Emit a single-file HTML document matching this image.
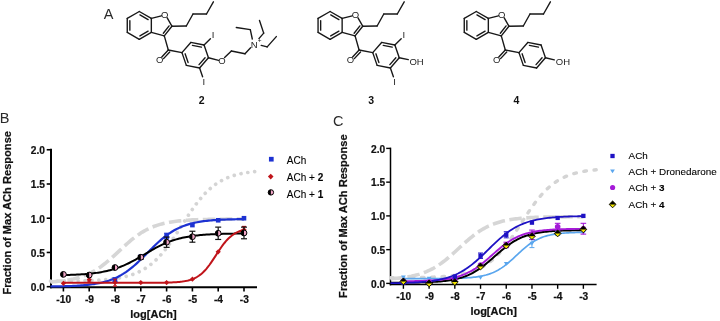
<!DOCTYPE html>
<html><head><meta charset="utf-8"><style>
html,body{margin:0;padding:0;background:#fff;}
body{width:720px;height:321px;overflow:hidden;}
svg{display:block;font-family:"Liberation Sans", sans-serif;will-change:transform;}
</style></head><body>
<svg width="720" height="321" viewBox="0 0 720 321">
<rect width="720" height="321" fill="#fff"/>
<g><line x1="139.3" y1="11.5" x2="151.34" y2="18.45" stroke="#181818" stroke-width="1.38" stroke-linecap="round"/><line x1="151.34" y1="18.45" x2="151.34" y2="32.35" stroke="#181818" stroke-width="1.38" stroke-linecap="round"/><line x1="151.34" y1="32.35" x2="139.3" y2="39.3" stroke="#181818" stroke-width="1.38" stroke-linecap="round"/><line x1="139.3" y1="39.3" x2="127.26" y2="32.35" stroke="#181818" stroke-width="1.38" stroke-linecap="round"/><line x1="127.26" y1="32.35" x2="127.26" y2="18.45" stroke="#181818" stroke-width="1.38" stroke-linecap="round"/><line x1="127.26" y1="18.45" x2="139.3" y2="11.5" stroke="#181818" stroke-width="1.38" stroke-linecap="round"/><line x1="139.93" y1="14.86" x2="148.11" y2="19.59" stroke="#181818" stroke-width="1.38" stroke-linecap="round"/><line x1="148.11" y1="31.21" x2="139.93" y2="35.94" stroke="#181818" stroke-width="1.38" stroke-linecap="round"/><line x1="129.86" y1="30.13" x2="129.86" y2="20.67" stroke="#181818" stroke-width="1.38" stroke-linecap="round"/><line x1="151.34" y1="18.45" x2="161.4" y2="15.8" stroke="#181818" stroke-width="1.38" stroke-linecap="round"/><line x1="167.2" y1="17.8" x2="171.9" y2="26.2" stroke="#181818" stroke-width="1.38" stroke-linecap="round"/><line x1="171.9" y1="26.2" x2="164.3" y2="35.9" stroke="#181818" stroke-width="1.38" stroke-linecap="round"/><line x1="164.3" y1="35.9" x2="151.34" y2="32.35" stroke="#181818" stroke-width="1.38" stroke-linecap="round"/><line x1="169.1" y1="25.88" x2="163.32" y2="33.26" stroke="#181818" stroke-width="1.38" stroke-linecap="round"/><text x="164.6" y="17.9" font-size="9.5" text-anchor="middle" font-weight="normal" fill="#222" >O</text><line x1="171.9" y1="26.2" x2="186.3" y2="26" stroke="#181818" stroke-width="1.38" stroke-linecap="round"/><line x1="186.3" y1="26" x2="193" y2="14" stroke="#181818" stroke-width="1.38" stroke-linecap="round"/><line x1="193" y1="14" x2="206.5" y2="14" stroke="#181818" stroke-width="1.38" stroke-linecap="round"/><line x1="206.5" y1="14" x2="213.4" y2="1.8" stroke="#181818" stroke-width="1.38" stroke-linecap="round"/><line x1="164.3" y1="35.9" x2="168.3" y2="50" stroke="#181818" stroke-width="1.38" stroke-linecap="round"/><line x1="168.3" y1="50" x2="161.8" y2="57" stroke="#181818" stroke-width="1.38" stroke-linecap="round"/><line x1="169.73" y1="51.98" x2="163.56" y2="58.63" stroke="#181818" stroke-width="1.38" stroke-linecap="round"/><text x="159.6" y="63.3" font-size="9.5" text-anchor="middle" font-weight="normal" fill="#222" >O</text><line x1="168.3" y1="50" x2="181.95" y2="52.62" stroke="#181818" stroke-width="1.38" stroke-linecap="round"/><line x1="181.95" y1="52.62" x2="190.8" y2="42.44" stroke="#181818" stroke-width="1.38" stroke-linecap="round"/><line x1="190.8" y1="42.44" x2="204.06" y2="45.01" stroke="#181818" stroke-width="1.38" stroke-linecap="round"/><line x1="204.06" y1="45.01" x2="208.45" y2="57.78" stroke="#181818" stroke-width="1.38" stroke-linecap="round"/><line x1="208.45" y1="57.78" x2="199.6" y2="67.96" stroke="#181818" stroke-width="1.38" stroke-linecap="round"/><line x1="199.6" y1="67.96" x2="186.34" y2="65.39" stroke="#181818" stroke-width="1.38" stroke-linecap="round"/><line x1="186.34" y1="65.39" x2="181.95" y2="52.62" stroke="#181818" stroke-width="1.38" stroke-linecap="round"/><line x1="192.43" y1="45.4" x2="201.44" y2="47.15" stroke="#181818" stroke-width="1.38" stroke-linecap="round"/><line x1="205.07" y1="57.7" x2="199.05" y2="64.63" stroke="#181818" stroke-width="1.38" stroke-linecap="round"/><line x1="188.1" y1="62.5" x2="185.11" y2="53.82" stroke="#181818" stroke-width="1.38" stroke-linecap="round"/><line x1="204.06" y1="45.01" x2="210.4" y2="38.8" stroke="#181818" stroke-width="1.38" stroke-linecap="round"/><text x="213.1" y="37.9" font-size="9.5" text-anchor="middle" font-weight="normal" fill="#222" >I</text><line x1="199.6" y1="67.96" x2="202.6" y2="76.8" stroke="#181818" stroke-width="1.38" stroke-linecap="round"/><text x="203.8" y="85.3" font-size="9.5" text-anchor="middle" font-weight="normal" fill="#222" >I</text><line x1="208.45" y1="57.78" x2="218.6" y2="60.4" stroke="#181818" stroke-width="1.38" stroke-linecap="round"/><text x="222" y="64.4" font-size="9.5" text-anchor="middle" font-weight="normal" fill="#222" >O</text><line x1="224.6" y1="57.6" x2="231.4" y2="51" stroke="#181818" stroke-width="1.38" stroke-linecap="round"/><line x1="231.4" y1="51" x2="245" y2="53.8" stroke="#181818" stroke-width="1.38" stroke-linecap="round"/><line x1="245" y1="53.8" x2="250.6" y2="47.8" stroke="#181818" stroke-width="1.38" stroke-linecap="round"/><text x="254.3" y="47.6" font-size="9.5" text-anchor="middle" font-weight="normal" fill="#222" >N</text><text x="259.7" y="43" font-size="6.5" text-anchor="middle" font-weight="normal" fill="#222" >+</text><line x1="252.3" y1="39" x2="250.3" y2="29.6" stroke="#181818" stroke-width="1.38" stroke-linecap="round"/><line x1="250.3" y1="29.6" x2="236.3" y2="27.5" stroke="#181818" stroke-width="1.38" stroke-linecap="round"/><line x1="258.9" y1="38.6" x2="263.7" y2="33.1" stroke="#181818" stroke-width="1.38" stroke-linecap="round"/><line x1="263.7" y1="33.1" x2="259.5" y2="20.5" stroke="#181818" stroke-width="1.38" stroke-linecap="round"/><line x1="261.2" y1="45.4" x2="267.2" y2="46.9" stroke="#181818" stroke-width="1.38" stroke-linecap="round"/><line x1="267.2" y1="46.9" x2="276.3" y2="36.6" stroke="#181818" stroke-width="1.38" stroke-linecap="round"/><line x1="330.1" y1="11.5" x2="342.14" y2="18.45" stroke="#181818" stroke-width="1.38" stroke-linecap="round"/><line x1="342.14" y1="18.45" x2="342.14" y2="32.35" stroke="#181818" stroke-width="1.38" stroke-linecap="round"/><line x1="342.14" y1="32.35" x2="330.1" y2="39.3" stroke="#181818" stroke-width="1.38" stroke-linecap="round"/><line x1="330.1" y1="39.3" x2="318.06" y2="32.35" stroke="#181818" stroke-width="1.38" stroke-linecap="round"/><line x1="318.06" y1="32.35" x2="318.06" y2="18.45" stroke="#181818" stroke-width="1.38" stroke-linecap="round"/><line x1="318.06" y1="18.45" x2="330.1" y2="11.5" stroke="#181818" stroke-width="1.38" stroke-linecap="round"/><line x1="330.73" y1="14.86" x2="338.91" y2="19.59" stroke="#181818" stroke-width="1.38" stroke-linecap="round"/><line x1="338.91" y1="31.21" x2="330.73" y2="35.94" stroke="#181818" stroke-width="1.38" stroke-linecap="round"/><line x1="320.66" y1="30.13" x2="320.66" y2="20.67" stroke="#181818" stroke-width="1.38" stroke-linecap="round"/><line x1="342.14" y1="18.45" x2="352.2" y2="15.8" stroke="#181818" stroke-width="1.38" stroke-linecap="round"/><line x1="358" y1="17.8" x2="362.7" y2="26.2" stroke="#181818" stroke-width="1.38" stroke-linecap="round"/><line x1="362.7" y1="26.2" x2="355.1" y2="35.9" stroke="#181818" stroke-width="1.38" stroke-linecap="round"/><line x1="355.1" y1="35.9" x2="342.14" y2="32.35" stroke="#181818" stroke-width="1.38" stroke-linecap="round"/><line x1="359.9" y1="25.88" x2="354.12" y2="33.26" stroke="#181818" stroke-width="1.38" stroke-linecap="round"/><text x="355.4" y="17.9" font-size="9.5" text-anchor="middle" font-weight="normal" fill="#222" >O</text><line x1="362.7" y1="26.2" x2="377.1" y2="26" stroke="#181818" stroke-width="1.38" stroke-linecap="round"/><line x1="377.1" y1="26" x2="383.8" y2="14" stroke="#181818" stroke-width="1.38" stroke-linecap="round"/><line x1="383.8" y1="14" x2="397.3" y2="14" stroke="#181818" stroke-width="1.38" stroke-linecap="round"/><line x1="397.3" y1="14" x2="404.2" y2="1.8" stroke="#181818" stroke-width="1.38" stroke-linecap="round"/><line x1="355.1" y1="35.9" x2="359.1" y2="50" stroke="#181818" stroke-width="1.38" stroke-linecap="round"/><line x1="359.1" y1="50" x2="352.6" y2="57" stroke="#181818" stroke-width="1.38" stroke-linecap="round"/><line x1="360.53" y1="51.98" x2="354.36" y2="58.63" stroke="#181818" stroke-width="1.38" stroke-linecap="round"/><text x="350.4" y="63.3" font-size="9.5" text-anchor="middle" font-weight="normal" fill="#222" >O</text><line x1="359.1" y1="50" x2="372.75" y2="52.62" stroke="#181818" stroke-width="1.38" stroke-linecap="round"/><line x1="372.75" y1="52.62" x2="381.6" y2="42.44" stroke="#181818" stroke-width="1.38" stroke-linecap="round"/><line x1="381.6" y1="42.44" x2="394.86" y2="45.01" stroke="#181818" stroke-width="1.38" stroke-linecap="round"/><line x1="394.86" y1="45.01" x2="399.25" y2="57.78" stroke="#181818" stroke-width="1.38" stroke-linecap="round"/><line x1="399.25" y1="57.78" x2="390.4" y2="67.96" stroke="#181818" stroke-width="1.38" stroke-linecap="round"/><line x1="390.4" y1="67.96" x2="377.14" y2="65.39" stroke="#181818" stroke-width="1.38" stroke-linecap="round"/><line x1="377.14" y1="65.39" x2="372.75" y2="52.62" stroke="#181818" stroke-width="1.38" stroke-linecap="round"/><line x1="383.23" y1="45.4" x2="392.24" y2="47.15" stroke="#181818" stroke-width="1.38" stroke-linecap="round"/><line x1="395.87" y1="57.7" x2="389.85" y2="64.63" stroke="#181818" stroke-width="1.38" stroke-linecap="round"/><line x1="378.9" y1="62.5" x2="375.91" y2="53.82" stroke="#181818" stroke-width="1.38" stroke-linecap="round"/><line x1="394.86" y1="45.01" x2="401.2" y2="38.8" stroke="#181818" stroke-width="1.38" stroke-linecap="round"/><text x="403.9" y="37.9" font-size="9.5" text-anchor="middle" font-weight="normal" fill="#222" >I</text><line x1="390.4" y1="67.96" x2="393.4" y2="76.8" stroke="#181818" stroke-width="1.38" stroke-linecap="round"/><text x="394.6" y="85.3" font-size="9.5" text-anchor="middle" font-weight="normal" fill="#222" >I</text><line x1="399.25" y1="57.78" x2="408.3" y2="59.6" stroke="#181818" stroke-width="1.38" stroke-linecap="round"/><text x="409.4" y="64.9" font-size="9.5" text-anchor="start" font-weight="normal" fill="#222" >OH</text><line x1="476.3" y1="11.5" x2="488.34" y2="18.45" stroke="#181818" stroke-width="1.38" stroke-linecap="round"/><line x1="488.34" y1="18.45" x2="488.34" y2="32.35" stroke="#181818" stroke-width="1.38" stroke-linecap="round"/><line x1="488.34" y1="32.35" x2="476.3" y2="39.3" stroke="#181818" stroke-width="1.38" stroke-linecap="round"/><line x1="476.3" y1="39.3" x2="464.26" y2="32.35" stroke="#181818" stroke-width="1.38" stroke-linecap="round"/><line x1="464.26" y1="32.35" x2="464.26" y2="18.45" stroke="#181818" stroke-width="1.38" stroke-linecap="round"/><line x1="464.26" y1="18.45" x2="476.3" y2="11.5" stroke="#181818" stroke-width="1.38" stroke-linecap="round"/><line x1="476.93" y1="14.86" x2="485.11" y2="19.59" stroke="#181818" stroke-width="1.38" stroke-linecap="round"/><line x1="485.11" y1="31.21" x2="476.93" y2="35.94" stroke="#181818" stroke-width="1.38" stroke-linecap="round"/><line x1="466.86" y1="30.13" x2="466.86" y2="20.67" stroke="#181818" stroke-width="1.38" stroke-linecap="round"/><line x1="488.34" y1="18.45" x2="498.4" y2="15.8" stroke="#181818" stroke-width="1.38" stroke-linecap="round"/><line x1="504.2" y1="17.8" x2="508.9" y2="26.2" stroke="#181818" stroke-width="1.38" stroke-linecap="round"/><line x1="508.9" y1="26.2" x2="501.3" y2="35.9" stroke="#181818" stroke-width="1.38" stroke-linecap="round"/><line x1="501.3" y1="35.9" x2="488.34" y2="32.35" stroke="#181818" stroke-width="1.38" stroke-linecap="round"/><line x1="506.1" y1="25.88" x2="500.32" y2="33.26" stroke="#181818" stroke-width="1.38" stroke-linecap="round"/><text x="501.6" y="17.9" font-size="9.5" text-anchor="middle" font-weight="normal" fill="#222" >O</text><line x1="508.9" y1="26.2" x2="523.3" y2="26" stroke="#181818" stroke-width="1.38" stroke-linecap="round"/><line x1="523.3" y1="26" x2="530" y2="14" stroke="#181818" stroke-width="1.38" stroke-linecap="round"/><line x1="530" y1="14" x2="543.5" y2="14" stroke="#181818" stroke-width="1.38" stroke-linecap="round"/><line x1="543.5" y1="14" x2="550.4" y2="1.8" stroke="#181818" stroke-width="1.38" stroke-linecap="round"/><line x1="501.3" y1="35.9" x2="505.3" y2="50" stroke="#181818" stroke-width="1.38" stroke-linecap="round"/><line x1="505.3" y1="50" x2="498.8" y2="57" stroke="#181818" stroke-width="1.38" stroke-linecap="round"/><line x1="506.73" y1="51.98" x2="500.56" y2="58.63" stroke="#181818" stroke-width="1.38" stroke-linecap="round"/><text x="496.6" y="63.3" font-size="9.5" text-anchor="middle" font-weight="normal" fill="#222" >O</text><line x1="505.3" y1="50" x2="518.95" y2="52.62" stroke="#181818" stroke-width="1.38" stroke-linecap="round"/><line x1="518.95" y1="52.62" x2="527.8" y2="42.44" stroke="#181818" stroke-width="1.38" stroke-linecap="round"/><line x1="527.8" y1="42.44" x2="541.06" y2="45.01" stroke="#181818" stroke-width="1.38" stroke-linecap="round"/><line x1="541.06" y1="45.01" x2="545.45" y2="57.78" stroke="#181818" stroke-width="1.38" stroke-linecap="round"/><line x1="545.45" y1="57.78" x2="536.6" y2="67.96" stroke="#181818" stroke-width="1.38" stroke-linecap="round"/><line x1="536.6" y1="67.96" x2="523.34" y2="65.39" stroke="#181818" stroke-width="1.38" stroke-linecap="round"/><line x1="523.34" y1="65.39" x2="518.95" y2="52.62" stroke="#181818" stroke-width="1.38" stroke-linecap="round"/><line x1="529.43" y1="45.4" x2="538.44" y2="47.15" stroke="#181818" stroke-width="1.38" stroke-linecap="round"/><line x1="542.07" y1="57.7" x2="536.05" y2="64.63" stroke="#181818" stroke-width="1.38" stroke-linecap="round"/><line x1="525.1" y1="62.5" x2="522.11" y2="53.82" stroke="#181818" stroke-width="1.38" stroke-linecap="round"/><line x1="545.45" y1="57.78" x2="554.3" y2="59.9" stroke="#181818" stroke-width="1.38" stroke-linecap="round"/><text x="555.8" y="64.9" font-size="9.5" text-anchor="start" font-weight="normal" fill="#222" >OH</text></g>
<g><text x="108.5" y="18.8" font-size="14.5" text-anchor="middle" font-weight="normal" fill="#2a2a2a" >A</text><text x="4.6" y="123.3" font-size="14.5" text-anchor="middle" font-weight="normal" fill="#2a2a2a" >B</text><text x="338.2" y="126.4" font-size="14.5" text-anchor="middle" font-weight="normal" fill="#2a2a2a" >C</text><text x="201.6" y="103.7" font-size="10.5" text-anchor="middle" font-weight="bold" fill="#111" >2</text><text x="371.1" y="104" font-size="10.5" text-anchor="middle" font-weight="bold" fill="#111" >3</text><text x="516.4" y="103.7" font-size="10.5" text-anchor="middle" font-weight="bold" fill="#111" >4</text></g>
<g><line x1="51" y1="148.76" x2="51" y2="288.3" stroke="#000" stroke-width="2.0"/><line x1="50" y1="287.3" x2="257" y2="287.3" stroke="#000" stroke-width="2.0"/><line x1="46.7" y1="286.7" x2="51" y2="286.7" stroke="#000" stroke-width="1.6"/><text x="44.9" y="290.97" font-size="10.2" text-anchor="end" font-weight="bold" fill="#111" stroke="#111" stroke-width="0.22">0.0</text><line x1="46.7" y1="252.46" x2="51" y2="252.46" stroke="#000" stroke-width="1.6"/><text x="44.9" y="256.74" font-size="10.2" text-anchor="end" font-weight="bold" fill="#111" stroke="#111" stroke-width="0.22">0.5</text><line x1="46.7" y1="218.23" x2="51" y2="218.23" stroke="#000" stroke-width="1.6"/><text x="44.9" y="222.5" font-size="10.2" text-anchor="end" font-weight="bold" fill="#111" stroke="#111" stroke-width="0.22">1.0</text><line x1="46.7" y1="184" x2="51" y2="184" stroke="#000" stroke-width="1.6"/><text x="44.9" y="188.27" font-size="10.2" text-anchor="end" font-weight="bold" fill="#111" stroke="#111" stroke-width="0.22">1.5</text><line x1="46.7" y1="149.76" x2="51" y2="149.76" stroke="#000" stroke-width="1.6"/><text x="44.9" y="154.03" font-size="10.2" text-anchor="end" font-weight="bold" fill="#111" stroke="#111" stroke-width="0.22">2.0</text><line x1="63.4" y1="287.3" x2="63.4" y2="291.5" stroke="#000" stroke-width="1.6"/><text x="63.7" y="303" font-size="10.2" text-anchor="middle" font-weight="bold" fill="#111" stroke="#111" stroke-width="0.22">-10</text><line x1="89.2" y1="287.3" x2="89.2" y2="291.5" stroke="#000" stroke-width="1.6"/><text x="89.5" y="303" font-size="10.2" text-anchor="middle" font-weight="bold" fill="#111" stroke="#111" stroke-width="0.22">-9</text><line x1="115" y1="287.3" x2="115" y2="291.5" stroke="#000" stroke-width="1.6"/><text x="115.3" y="303" font-size="10.2" text-anchor="middle" font-weight="bold" fill="#111" stroke="#111" stroke-width="0.22">-8</text><line x1="140.8" y1="287.3" x2="140.8" y2="291.5" stroke="#000" stroke-width="1.6"/><text x="141.1" y="303" font-size="10.2" text-anchor="middle" font-weight="bold" fill="#111" stroke="#111" stroke-width="0.22">-7</text><line x1="166.6" y1="287.3" x2="166.6" y2="291.5" stroke="#000" stroke-width="1.6"/><text x="166.9" y="303" font-size="10.2" text-anchor="middle" font-weight="bold" fill="#111" stroke="#111" stroke-width="0.22">-6</text><line x1="192.4" y1="287.3" x2="192.4" y2="291.5" stroke="#000" stroke-width="1.6"/><text x="192.7" y="303" font-size="10.2" text-anchor="middle" font-weight="bold" fill="#111" stroke="#111" stroke-width="0.22">-5</text><line x1="218.2" y1="287.3" x2="218.2" y2="291.5" stroke="#000" stroke-width="1.6"/><text x="218.5" y="303" font-size="10.2" text-anchor="middle" font-weight="bold" fill="#111" stroke="#111" stroke-width="0.22">-4</text><line x1="244" y1="287.3" x2="244" y2="291.5" stroke="#000" stroke-width="1.6"/><text x="244.3" y="303" font-size="10.2" text-anchor="middle" font-weight="bold" fill="#111" stroke="#111" stroke-width="0.22">-3</text><text x="153.5" y="318" font-size="11" text-anchor="middle" font-weight="bold" fill="#111" stroke="#111" stroke-width="0.22">log[ACh]</text><text x="0" y="0" font-size="11.1" font-weight="bold" fill="#111" stroke="#111" stroke-width="0.22" text-anchor="middle" transform="translate(10.6,212.8) rotate(-90)">Fraction of Max ACh Response</text><path d="M50.5,281.99 L52.11,281.87 L53.72,281.75 L55.34,281.62 L56.95,281.47 L58.56,281.31 L60.17,281.14 L61.79,280.95 L63.4,280.74 L65.01,280.51 L66.62,280.26 L68.24,280 L69.85,279.7 L71.46,279.38 L73.08,279.04 L74.69,278.66 L76.3,278.25 L77.91,277.81 L79.53,277.33 L81.14,276.81 L82.75,276.25 L84.36,275.65 L85.97,275.01 L87.59,274.32 L89.2,273.58 L90.81,272.79 L92.42,271.94 L94.04,271.05 L95.65,270.1 L97.26,269.09 L98.88,268.03 L100.49,266.92 L102.1,265.75 L103.71,264.53 L105.33,263.27 L106.94,261.95 L108.55,260.6 L110.16,259.2 L111.78,257.78 L113.39,256.32 L115,254.84 L116.61,253.35 L118.22,251.84 L119.84,250.34 L121.45,248.83 L123.06,247.34 L124.67,245.86 L126.29,244.4 L127.9,242.98 L129.51,241.58 L131.12,240.23 L132.74,238.92 L134.35,237.65 L135.96,236.43 L137.57,235.27 L139.19,234.15 L140.8,233.09 L142.41,232.09 L144.03,231.14 L145.64,230.24 L147.25,229.4 L148.86,228.61 L150.47,227.87 L152.09,227.18 L153.7,226.53 L155.31,225.93 L156.93,225.37 L158.54,224.86 L160.15,224.38 L161.76,223.94 L163.38,223.53 L164.99,223.15 L166.6,222.81 L168.21,222.49 L169.82,222.19 L171.44,221.92 L173.05,221.68 L174.66,221.45 L176.28,221.24 L177.89,221.05 L179.5,220.88 L181.11,220.72 L182.72,220.57 L184.34,220.44 L185.95,220.32 L187.56,220.2 L189.18,220.1 L190.79,220.01 L192.4,219.92 L194.01,219.85 L195.62,219.78 L197.24,219.71 L198.85,219.65 L200.46,219.6 L202.08,219.55 L203.69,219.51 L205.3,219.47 L206.91,219.43 L208.53,219.39 L210.14,219.36 L211.75,219.34 L213.36,219.31 L214.98,219.29 L216.59,219.27 L218.2,219.25 L219.81,219.23 L221.43,219.21 L223.04,219.2 L224.65,219.19 L226.26,219.17 L227.88,219.16 L229.49,219.15 L231.1,219.14 L232.71,219.14 L234.33,219.13 L235.94,219.12 L237.55,219.12 L239.16,219.11 L240.78,219.1 L242.39,219.1 L244,219.1" fill="none" stroke="#d6d6d6" stroke-width="3.6" stroke-dasharray="12.5 4.5"/><path d="M50.5,281.02 L52.22,281.01 L53.94,281 L55.66,280.99 L57.38,280.98 L59.1,280.97 L60.82,280.96 L62.54,280.95 L64.26,280.94 L65.98,280.92 L67.7,280.9 L69.42,280.88 L71.14,280.86 L72.86,280.84 L74.58,280.82 L76.3,280.79 L78.02,280.76 L79.74,280.73 L81.46,280.69 L83.18,280.65 L84.9,280.61 L86.62,280.56 L88.34,280.51 L90.06,280.45 L91.78,280.38 L93.5,280.31 L95.22,280.23 L96.94,280.15 L98.66,280.05 L100.38,279.95 L102.1,279.84 L103.82,279.71 L105.54,279.57 L107.26,279.42 L108.98,279.26 L110.7,279.07 L112.42,278.87 L114.14,278.65 L115.86,278.41 L117.58,278.15 L119.3,277.86 L121.02,277.54 L122.74,277.2 L124.46,276.82 L126.18,276.4 L127.9,275.95 L129.62,275.45 L131.34,274.91 L133.06,274.32 L134.78,273.68 L136.5,272.98 L138.22,272.23 L139.94,271.41 L141.66,270.52 L143.38,269.55 L145.1,268.52 L146.82,267.4 L148.54,266.19 L150.26,264.9 L151.98,263.52 L153.7,262.04 L155.42,260.46 L157.14,258.79 L158.86,257.01 L160.58,255.14 L162.3,253.17 L164.02,251.1 L165.74,248.93 L167.46,246.68 L169.18,244.34 L170.9,241.92 L172.62,239.43 L174.34,236.88 L176.06,234.28 L177.78,231.64 L179.5,228.98 L181.22,226.29 L182.94,223.6 L184.66,220.92 L186.38,218.26 L188.1,215.64 L189.82,213.06 L191.54,210.53 L193.26,208.07 L194.98,205.68 L196.7,203.37 L198.42,201.15 L200.14,199.03 L201.86,196.99 L203.58,195.06 L205.3,193.22 L207.02,191.49 L208.74,189.85 L210.46,188.32 L212.18,186.87 L213.9,185.53 L215.62,184.27 L217.34,183.1 L219.06,182.01 L220.78,181 L222.5,180.07 L224.22,179.21 L225.94,178.41 L227.66,177.68 L229.38,177 L231.1,176.38 L232.82,175.81 L234.54,175.29 L236.26,174.81 L237.98,174.37 L239.7,173.97 L241.42,173.61 L243.14,173.27 L244.86,172.97 L246.58,172.69 L248.3,172.43 L250.02,172.2 L251.74,171.99 L253.46,171.79 L255.18,171.62 L256.9,171.46" fill="none" stroke="#d4d4d4" stroke-width="3.7" stroke-dasharray="0.01 6.9" stroke-linecap="round"/><path d="M50.5,286.5 L52.11,286.47 L53.72,286.45 L55.34,286.43 L56.95,286.4 L58.56,286.37 L60.17,286.34 L61.79,286.3 L63.4,286.26 L65.01,286.22 L66.62,286.17 L68.24,286.11 L69.85,286.05 L71.46,285.99 L73.08,285.92 L74.69,285.84 L76.3,285.75 L77.91,285.66 L79.53,285.56 L81.14,285.44 L82.75,285.32 L84.36,285.18 L85.97,285.03 L87.59,284.87 L89.2,284.69 L90.81,284.49 L92.42,284.27 L94.04,284.04 L95.65,283.78 L97.26,283.5 L98.88,283.19 L100.49,282.86 L102.1,282.49 L103.71,282.09 L105.33,281.66 L106.94,281.19 L108.55,280.69 L110.16,280.14 L111.78,279.54 L113.39,278.9 L115,278.21 L116.61,277.47 L118.22,276.67 L119.84,275.82 L121.45,274.91 L123.06,273.94 L124.67,272.91 L126.29,271.82 L127.9,270.68 L129.51,269.47 L131.12,268.2 L132.74,266.87 L134.35,265.49 L135.96,264.06 L137.57,262.59 L139.19,261.07 L140.8,259.52 L142.41,257.93 L144.03,256.32 L145.64,254.7 L147.25,253.07 L148.86,251.44 L150.47,249.81 L152.09,248.2 L153.7,246.6 L155.31,245.04 L156.93,243.51 L158.54,242.02 L160.15,240.57 L161.76,239.18 L163.38,237.84 L164.99,236.55 L166.6,235.32 L168.21,234.15 L169.82,233.04 L171.44,231.99 L173.05,231.01 L174.66,230.08 L176.28,229.21 L177.89,228.39 L179.5,227.63 L181.11,226.93 L182.72,226.27 L184.34,225.66 L185.95,225.1 L187.56,224.58 L189.18,224.1 L190.79,223.65 L192.4,223.25 L194.01,222.87 L195.62,222.53 L197.24,222.21 L198.85,221.92 L200.46,221.66 L202.08,221.41 L203.69,221.19 L205.3,220.99 L206.91,220.8 L208.53,220.63 L210.14,220.48 L211.75,220.34 L213.36,220.21 L214.98,220.09 L216.59,219.99 L218.2,219.89 L219.81,219.8 L221.43,219.72 L223.04,219.65 L224.65,219.58 L226.26,219.52 L227.88,219.46 L229.49,219.41 L231.1,219.37 L232.71,219.33 L234.33,219.29 L235.94,219.26 L237.55,219.22 L239.16,219.2 L240.78,219.17 L242.39,219.15 L244,219.13" fill="none" stroke="#1d32d2" stroke-width="2.2"/><path d="M63.4,275.1 L64.91,275.06 L66.41,275.02 L67.92,274.98 L69.42,274.93 L70.92,274.87 L72.43,274.82 L73.94,274.75 L75.44,274.68 L76.95,274.61 L78.45,274.53 L79.96,274.44 L81.46,274.35 L82.96,274.25 L84.47,274.14 L85.97,274.02 L87.48,273.89 L88.99,273.75 L90.49,273.6 L92,273.44 L93.5,273.26 L95,273.07 L96.51,272.87 L98.02,272.65 L99.52,272.41 L101.03,272.16 L102.53,271.88 L104.03,271.59 L105.54,271.28 L107.04,270.94 L108.55,270.58 L110.06,270.2 L111.56,269.79 L113.07,269.36 L114.57,268.9 L116.07,268.41 L117.58,267.9 L119.08,267.36 L120.59,266.78 L122.09,266.18 L123.6,265.55 L125.1,264.89 L126.61,264.2 L128.11,263.49 L129.62,262.75 L131.12,261.98 L132.63,261.19 L134.14,260.38 L135.64,259.55 L137.15,258.7 L138.65,257.84 L140.16,256.96 L141.66,256.08 L143.16,255.19 L144.67,254.3 L146.18,253.41 L147.68,252.52 L149.19,251.64 L150.69,250.77 L152.19,249.91 L153.7,249.07 L155.21,248.24 L156.71,247.44 L158.22,246.65 L159.72,245.9 L161.22,245.16 L162.73,244.46 L164.23,243.78 L165.74,243.13 L167.25,242.51 L168.75,241.92 L170.25,241.36 L171.76,240.82 L173.27,240.32 L174.77,239.84 L176.28,239.39 L177.78,238.96 L179.28,238.57 L180.79,238.19 L182.3,237.84 L183.8,237.51 L185.31,237.21 L186.81,236.92 L188.31,236.66 L189.82,236.41 L191.32,236.18 L192.83,235.96 L194.34,235.76 L195.84,235.58 L197.34,235.41 L198.85,235.25 L200.36,235.1 L201.86,234.97 L203.37,234.84 L204.87,234.72 L206.38,234.62 L207.88,234.52 L209.39,234.43 L210.89,234.34 L212.4,234.26 L213.9,234.19 L215.41,234.13 L216.91,234.07 L218.42,234.01 L219.92,233.96 L221.43,233.91 L222.93,233.87 L224.44,233.83 L225.94,233.79 L227.45,233.75 L228.95,233.72 L230.46,233.69 L231.96,233.67 L233.47,233.64 L234.97,233.62 L236.47,233.6 L237.98,233.58 L239.49,233.56 L240.99,233.55 L242.5,233.53 L244,233.52" fill="none" stroke="#000" stroke-width="2.0"/><path d="M63.4,282.8 L64.91,282.8 L66.41,282.8 L67.92,282.8 L69.42,282.8 L70.92,282.8 L72.43,282.8 L73.94,282.8 L75.44,282.8 L76.95,282.8 L78.45,282.8 L79.96,282.8 L81.46,282.8 L82.96,282.8 L84.47,282.8 L85.97,282.8 L87.48,282.8 L88.99,282.8 L90.49,282.8 L92,282.8 L93.5,282.8 L95,282.8 L96.51,282.8 L98.02,282.8 L99.52,282.8 L101.03,282.8 L102.53,282.8 L104.03,282.8 L105.54,282.8 L107.04,282.8 L108.55,282.8 L110.06,282.8 L111.56,282.8 L113.07,282.8 L114.57,282.8 L116.07,282.8 L117.58,282.8 L119.08,282.8 L120.59,282.8 L122.09,282.8 L123.6,282.8 L125.1,282.8 L126.61,282.79 L128.11,282.79 L129.62,282.79 L131.12,282.79 L132.63,282.79 L134.14,282.79 L135.64,282.79 L137.15,282.79 L138.65,282.79 L140.16,282.79 L141.66,282.78 L143.16,282.78 L144.67,282.78 L146.18,282.78 L147.68,282.77 L149.19,282.77 L150.69,282.76 L152.19,282.75 L153.7,282.75 L155.21,282.74 L156.71,282.73 L158.22,282.71 L159.72,282.7 L161.22,282.68 L162.73,282.66 L164.23,282.63 L165.74,282.6 L167.25,282.57 L168.75,282.53 L170.25,282.48 L171.76,282.42 L173.27,282.35 L174.77,282.27 L176.28,282.17 L177.78,282.06 L179.28,281.92 L180.79,281.76 L182.3,281.58 L183.8,281.36 L185.31,281.1 L186.81,280.8 L188.31,280.44 L189.82,280.03 L191.32,279.55 L192.83,278.99 L194.34,278.35 L195.84,277.61 L197.34,276.75 L198.85,275.78 L200.36,274.68 L201.86,273.43 L203.37,272.04 L204.87,270.5 L206.38,268.81 L207.88,266.97 L209.39,264.99 L210.89,262.89 L212.4,260.69 L213.9,258.42 L215.41,256.1 L216.91,253.76 L218.42,251.45 L219.92,249.19 L221.43,247.01 L222.93,244.94 L224.44,242.99 L225.94,241.19 L227.45,239.53 L228.95,238.03 L230.46,236.67 L231.96,235.46 L233.47,234.39 L234.97,233.44 L236.47,232.62 L237.98,231.9 L239.49,231.28 L240.99,230.74 L242.5,230.27 L244,229.88" fill="none" stroke="#c0141a" stroke-width="2.0"/><line x1="115" y1="277.8" x2="115" y2="281.91" stroke="#1d32d2" stroke-width="1.2"/><line x1="112.5" y1="277.8" x2="117.5" y2="277.8" stroke="#1d32d2" stroke-width="1.2"/><line x1="112.5" y1="281.91" x2="117.5" y2="281.91" stroke="#1d32d2" stroke-width="1.2"/><rect x="112.7" y="277.55" width="4.6" height="4.6" fill="#1d32d2"/><line x1="140.8" y1="255.2" x2="140.8" y2="259.31" stroke="#1d32d2" stroke-width="1.2"/><line x1="138.3" y1="255.2" x2="143.3" y2="255.2" stroke="#1d32d2" stroke-width="1.2"/><line x1="138.3" y1="259.31" x2="143.3" y2="259.31" stroke="#1d32d2" stroke-width="1.2"/><rect x="138.5" y="254.96" width="4.6" height="4.6" fill="#1d32d2"/><line x1="166.6" y1="233.29" x2="166.6" y2="238.77" stroke="#1d32d2" stroke-width="1.2"/><line x1="164.1" y1="233.29" x2="169.1" y2="233.29" stroke="#1d32d2" stroke-width="1.2"/><line x1="164.1" y1="238.77" x2="169.1" y2="238.77" stroke="#1d32d2" stroke-width="1.2"/><rect x="164.3" y="233.73" width="4.6" height="4.6" fill="#1d32d2"/><rect x="190.1" y="222.78" width="4.6" height="4.6" fill="#1d32d2"/><rect x="215.9" y="217.98" width="4.6" height="4.6" fill="#1d32d2"/><rect x="241.7" y="215.93" width="4.6" height="4.6" fill="#1d32d2"/><path d="M63.4,280.68 L66,283.28 L63.4,285.88 L60.8,283.28Z" fill="#c0141a"/><line x1="89.2" y1="277.8" x2="89.2" y2="281.91" stroke="#c0141a" stroke-width="1.2"/><line x1="87.2" y1="277.8" x2="91.2" y2="277.8" stroke="#c0141a" stroke-width="1.2"/><line x1="87.2" y1="281.91" x2="91.2" y2="281.91" stroke="#c0141a" stroke-width="1.2"/><path d="M89.2,277.25 L91.8,279.85 L89.2,282.45 L86.6,279.85Z" fill="#c0141a"/><line x1="115" y1="279.17" x2="115" y2="286.02" stroke="#c0141a" stroke-width="1.2"/><line x1="113" y1="279.17" x2="117" y2="279.17" stroke="#c0141a" stroke-width="1.2"/><line x1="113" y1="286.02" x2="117" y2="286.02" stroke="#c0141a" stroke-width="1.2"/><path d="M115,279.99 L117.6,282.59 L115,285.19 L112.4,282.59Z" fill="#c0141a"/><path d="M140.8,279.99 L143.4,282.59 L140.8,285.19 L138.2,282.59Z" fill="#c0141a"/><path d="M166.6,279.99 L169.2,282.59 L166.6,285.19 L164,282.59Z" fill="#c0141a"/><path d="M192.4,276.57 L195,279.17 L192.4,281.77 L189.8,279.17Z" fill="#c0141a"/><path d="M218.2,249.18 L220.8,251.78 L218.2,254.38 L215.6,251.78Z" fill="#c0141a"/><line x1="244" y1="226.45" x2="244" y2="233.29" stroke="#c0141a" stroke-width="1.2"/><line x1="242" y1="226.45" x2="246" y2="226.45" stroke="#c0141a" stroke-width="1.2"/><line x1="242" y1="233.29" x2="246" y2="233.29" stroke="#c0141a" stroke-width="1.2"/><path d="M244,227.27 L246.6,229.87 L244,232.47 L241.4,229.87Z" fill="#c0141a"/><circle cx="63.4" cy="274.38" r="2.9" fill="#f2a6c8" stroke="#000" stroke-width="1"/><path d="M63.4,271.48 A2.9,2.9 0 0 0 63.4,277.28 Z" fill="#000"/><circle cx="89.2" cy="275.06" r="2.9" fill="#f2a6c8" stroke="#000" stroke-width="1"/><path d="M89.2,272.16 A2.9,2.9 0 0 0 89.2,277.96 Z" fill="#000"/><circle cx="115" cy="267.53" r="2.9" fill="#f2a6c8" stroke="#000" stroke-width="1"/><path d="M115,264.63 A2.9,2.9 0 0 0 115,270.43 Z" fill="#000"/><line x1="140.8" y1="255.55" x2="140.8" y2="258.97" stroke="#111" stroke-width="1.2"/><line x1="137.8" y1="255.55" x2="143.8" y2="255.55" stroke="#111" stroke-width="1.2"/><line x1="137.8" y1="258.97" x2="143.8" y2="258.97" stroke="#111" stroke-width="1.2"/><circle cx="140.8" cy="257.26" r="2.9" fill="#f2a6c8" stroke="#000" stroke-width="1"/><path d="M140.8,254.36 A2.9,2.9 0 0 0 140.8,260.16 Z" fill="#000"/><line x1="166.6" y1="237.06" x2="166.6" y2="247.33" stroke="#111" stroke-width="1.2"/><line x1="163.6" y1="237.06" x2="169.6" y2="237.06" stroke="#111" stroke-width="1.2"/><line x1="163.6" y1="247.33" x2="169.6" y2="247.33" stroke="#111" stroke-width="1.2"/><circle cx="166.6" cy="242.19" r="2.9" fill="#f2a6c8" stroke="#000" stroke-width="1"/><path d="M166.6,239.29 A2.9,2.9 0 0 0 166.6,245.09 Z" fill="#000"/><line x1="192.4" y1="231.24" x2="192.4" y2="242.19" stroke="#111" stroke-width="1.2"/><line x1="189.4" y1="231.24" x2="195.4" y2="231.24" stroke="#111" stroke-width="1.2"/><line x1="189.4" y1="242.19" x2="195.4" y2="242.19" stroke="#111" stroke-width="1.2"/><circle cx="192.4" cy="236.72" r="2.9" fill="#f2a6c8" stroke="#000" stroke-width="1"/><path d="M192.4,233.82 A2.9,2.9 0 0 0 192.4,239.62 Z" fill="#000"/><line x1="218.2" y1="227.13" x2="218.2" y2="239.46" stroke="#111" stroke-width="1.2"/><line x1="215.2" y1="227.13" x2="221.2" y2="227.13" stroke="#111" stroke-width="1.2"/><line x1="215.2" y1="239.46" x2="221.2" y2="239.46" stroke="#111" stroke-width="1.2"/><circle cx="218.2" cy="233.29" r="2.9" fill="#f2a6c8" stroke="#000" stroke-width="1"/><path d="M218.2,230.39 A2.9,2.9 0 0 0 218.2,236.19 Z" fill="#000"/><line x1="244" y1="227.13" x2="244" y2="238.77" stroke="#111" stroke-width="1.2"/><line x1="241" y1="227.13" x2="247" y2="227.13" stroke="#111" stroke-width="1.2"/><line x1="241" y1="238.77" x2="247" y2="238.77" stroke="#111" stroke-width="1.2"/><circle cx="244" cy="232.95" r="2.9" fill="#f2a6c8" stroke="#000" stroke-width="1"/><path d="M244,230.05 A2.9,2.9 0 0 0 244,235.85 Z" fill="#000"/><rect x="268.95" y="156.85" width="4.7" height="4.7" fill="#1d32d2"/><text x="286.8" y="164.2" font-size="10" text-anchor="start" font-weight="normal" fill="#000" stroke="#000" stroke-width="0.1">ACh</text><path d="M270.7,173.8 L273.5,176.6 L270.7,179.4 L267.9,176.6Z" fill="#c0141a"/><text x="286.8" y="181.2" font-size="10" text-anchor="start" font-weight="normal" fill="#000" stroke="#000" stroke-width="0.1">ACh + <tspan font-weight="bold">2</tspan></text><circle cx="270.9" cy="192.4" r="2.7" fill="#f2a6c8" stroke="#000" stroke-width="1"/><path d="M270.9,189.7 A2.7,2.7 0 0 0 270.9,195.1 Z" fill="#000"/><text x="286.8" y="197.6" font-size="10" text-anchor="start" font-weight="normal" fill="#000" stroke="#000" stroke-width="0.1">ACh + <tspan font-weight="bold">1</tspan></text><line x1="390.5" y1="147.65" x2="390.5" y2="285.35" stroke="#000" stroke-width="1.5"/><line x1="389.75" y1="284.6" x2="596.6" y2="284.6" stroke="#000" stroke-width="1.5"/><line x1="386.2" y1="283.4" x2="390.5" y2="283.4" stroke="#000" stroke-width="1.4"/><text x="385.2" y="287.67" font-size="10.2" text-anchor="end" font-weight="bold" fill="#111" stroke="#111" stroke-width="0.22">0.0</text><line x1="386.2" y1="249.65" x2="390.5" y2="249.65" stroke="#000" stroke-width="1.4"/><text x="385.2" y="253.92" font-size="10.2" text-anchor="end" font-weight="bold" fill="#111" stroke="#111" stroke-width="0.22">0.5</text><line x1="386.2" y1="215.9" x2="390.5" y2="215.9" stroke="#000" stroke-width="1.4"/><text x="385.2" y="220.17" font-size="10.2" text-anchor="end" font-weight="bold" fill="#111" stroke="#111" stroke-width="0.22">1.0</text><line x1="386.2" y1="182.15" x2="390.5" y2="182.15" stroke="#000" stroke-width="1.4"/><text x="385.2" y="186.42" font-size="10.2" text-anchor="end" font-weight="bold" fill="#111" stroke="#111" stroke-width="0.22">1.5</text><line x1="386.2" y1="148.4" x2="390.5" y2="148.4" stroke="#000" stroke-width="1.4"/><text x="385.2" y="152.67" font-size="10.2" text-anchor="end" font-weight="bold" fill="#111" stroke="#111" stroke-width="0.22">2.0</text><line x1="403.4" y1="284.6" x2="403.4" y2="288.8" stroke="#000" stroke-width="1.4"/><text x="403.7" y="299.8" font-size="10.2" text-anchor="middle" font-weight="bold" fill="#111" stroke="#111" stroke-width="0.22">-10</text><line x1="429.11" y1="284.6" x2="429.11" y2="288.8" stroke="#000" stroke-width="1.4"/><text x="429.41" y="299.8" font-size="10.2" text-anchor="middle" font-weight="bold" fill="#111" stroke="#111" stroke-width="0.22">-9</text><line x1="454.82" y1="284.6" x2="454.82" y2="288.8" stroke="#000" stroke-width="1.4"/><text x="455.12" y="299.8" font-size="10.2" text-anchor="middle" font-weight="bold" fill="#111" stroke="#111" stroke-width="0.22">-8</text><line x1="480.53" y1="284.6" x2="480.53" y2="288.8" stroke="#000" stroke-width="1.4"/><text x="480.83" y="299.8" font-size="10.2" text-anchor="middle" font-weight="bold" fill="#111" stroke="#111" stroke-width="0.22">-7</text><line x1="506.24" y1="284.6" x2="506.24" y2="288.8" stroke="#000" stroke-width="1.4"/><text x="506.54" y="299.8" font-size="10.2" text-anchor="middle" font-weight="bold" fill="#111" stroke="#111" stroke-width="0.22">-6</text><line x1="531.95" y1="284.6" x2="531.95" y2="288.8" stroke="#000" stroke-width="1.4"/><text x="532.25" y="299.8" font-size="10.2" text-anchor="middle" font-weight="bold" fill="#111" stroke="#111" stroke-width="0.22">-5</text><line x1="557.66" y1="284.6" x2="557.66" y2="288.8" stroke="#000" stroke-width="1.4"/><text x="557.96" y="299.8" font-size="10.2" text-anchor="middle" font-weight="bold" fill="#111" stroke="#111" stroke-width="0.22">-4</text><line x1="583.37" y1="284.6" x2="583.37" y2="288.8" stroke="#000" stroke-width="1.4"/><text x="583.67" y="299.8" font-size="10.2" text-anchor="middle" font-weight="bold" fill="#111" stroke="#111" stroke-width="0.22">-3</text><text x="493.6" y="315" font-size="11" text-anchor="middle" font-weight="bold" fill="#111" stroke="#111" stroke-width="0.22">log[ACh]</text><text x="0" y="0" font-size="11.1" font-weight="bold" fill="#111" stroke="#111" stroke-width="0.22" text-anchor="middle" transform="translate(347.0,216.1) rotate(-90)">Fraction of Max ACh Response</text><path d="M390.54,278.75 L392.15,278.64 L393.76,278.52 L395.37,278.39 L396.97,278.25 L398.58,278.09 L400.19,277.92 L401.79,277.73 L403.4,277.52 L405.01,277.3 L406.61,277.06 L408.22,276.79 L409.83,276.5 L411.43,276.19 L413.04,275.84 L414.65,275.47 L416.25,275.07 L417.86,274.63 L419.47,274.16 L421.08,273.65 L422.68,273.1 L424.29,272.51 L425.9,271.88 L427.5,271.19 L429.11,270.46 L430.72,269.68 L432.32,268.85 L433.93,267.97 L435.54,267.03 L437.14,266.04 L438.75,265 L440.36,263.9 L441.96,262.75 L443.57,261.55 L445.18,260.3 L446.79,259 L448.39,257.67 L450,256.29 L451.61,254.89 L453.21,253.45 L454.82,251.99 L456.43,250.52 L458.03,249.04 L459.64,247.55 L461.25,246.07 L462.85,244.59 L464.46,243.14 L466.07,241.7 L467.67,240.3 L469.28,238.92 L470.89,237.59 L472.5,236.29 L474.1,235.04 L475.71,233.84 L477.32,232.69 L478.92,231.6 L480.53,230.55 L482.14,229.56 L483.74,228.63 L485.35,227.74 L486.96,226.91 L488.56,226.13 L490.17,225.4 L491.78,224.72 L493.38,224.08 L494.99,223.49 L496.6,222.94 L498.21,222.43 L499.81,221.96 L501.42,221.53 L503.03,221.12 L504.63,220.75 L506.24,220.41 L507.85,220.1 L509.45,219.81 L511.06,219.54 L512.67,219.3 L514.27,219.07 L515.88,218.87 L517.49,218.68 L519.1,218.51 L520.7,218.35 L522.31,218.21 L523.92,218.08 L525.52,217.96 L527.13,217.85 L528.74,217.75 L530.34,217.65 L531.95,217.57 L533.56,217.49 L535.16,217.42 L536.77,217.36 L538.38,217.3 L539.98,217.25 L541.59,217.2 L543.2,217.16 L544.8,217.12 L546.41,217.08 L548.02,217.05 L549.63,217.02 L551.23,216.99 L552.84,216.97 L554.45,216.94 L556.05,216.92 L557.66,216.9 L559.27,216.89 L560.87,216.87 L562.48,216.86 L564.09,216.84 L565.69,216.83 L567.3,216.82 L568.91,216.81 L570.51,216.8 L572.12,216.79 L573.73,216.79 L575.34,216.78 L576.94,216.77 L578.55,216.77 L580.16,216.76 L581.76,216.76 L583.37,216.75" fill="none" stroke="#d6d6d6" stroke-width="3.6" stroke-dasharray="12.5 4.5"/><path d="M390.54,277.8 L392.26,277.79 L393.97,277.78 L395.69,277.77 L397.4,277.76 L399.12,277.75 L400.83,277.74 L402.54,277.73 L404.26,277.72 L405.97,277.7 L407.68,277.69 L409.4,277.67 L411.11,277.65 L412.83,277.62 L414.54,277.6 L416.25,277.57 L417.97,277.54 L419.68,277.51 L421.4,277.48 L423.11,277.44 L424.82,277.39 L426.54,277.35 L428.25,277.29 L429.97,277.24 L431.68,277.17 L433.39,277.1 L435.11,277.03 L436.82,276.94 L438.54,276.85 L440.25,276.75 L441.96,276.63 L443.68,276.51 L445.39,276.37 L447.11,276.23 L448.82,276.06 L450.53,275.88 L452.25,275.68 L453.96,275.47 L455.68,275.23 L457.39,274.97 L459.1,274.68 L460.82,274.37 L462.53,274.03 L464.25,273.66 L465.96,273.25 L467.67,272.8 L469.39,272.31 L471.1,271.78 L472.82,271.2 L474.53,270.57 L476.25,269.88 L477.96,269.13 L479.67,268.32 L481.39,267.45 L483.1,266.5 L484.81,265.47 L486.53,264.37 L488.24,263.18 L489.96,261.91 L491.67,260.54 L493.38,259.09 L495.1,257.53 L496.81,255.88 L498.53,254.13 L500.24,252.29 L501.95,250.34 L503.67,248.3 L505.38,246.17 L507.1,243.94 L508.81,241.64 L510.52,239.25 L512.24,236.8 L513.95,234.29 L515.67,231.73 L517.38,229.12 L519.1,226.49 L520.81,223.85 L522.52,221.2 L524.24,218.55 L525.95,215.93 L527.66,213.35 L529.38,210.8 L531.09,208.31 L532.81,205.88 L534.52,203.53 L536.24,201.26 L537.95,199.07 L539.66,196.97 L541.38,194.96 L543.09,193.06 L544.8,191.25 L546.52,189.54 L548.23,187.92 L549.95,186.41 L551.66,184.99 L553.38,183.66 L555.09,182.42 L556.8,181.27 L558.52,180.19 L560.23,179.2 L561.94,178.28 L563.66,177.43 L565.37,176.65 L567.09,175.92 L568.8,175.26 L570.51,174.65 L572.23,174.09 L573.94,173.57 L575.66,173.1 L577.37,172.67 L579.09,172.27 L580.8,171.91 L582.51,171.58 L584.23,171.28 L585.94,171 L587.65,170.75 L589.37,170.52 L591.08,170.31 L592.8,170.12 L594.51,169.95 L596.23,169.79" fill="none" stroke="#d4d4d4" stroke-width="3.4" stroke-dasharray="2.6 7.7" stroke-linecap="round"/><path d="M403.4,278.67 L404.9,278.67 L406.4,278.67 L407.9,278.67 L409.4,278.67 L410.9,278.67 L412.4,278.66 L413.9,278.66 L415.4,278.66 L416.9,278.66 L418.4,278.66 L419.9,278.66 L421.4,278.65 L422.9,278.65 L424.4,278.65 L425.9,278.64 L427.4,278.64 L428.9,278.64 L430.4,278.63 L431.9,278.62 L433.39,278.62 L434.89,278.61 L436.39,278.6 L437.89,278.59 L439.39,278.58 L440.89,278.57 L442.39,278.56 L443.89,278.54 L445.39,278.52 L446.89,278.51 L448.39,278.48 L449.89,278.46 L451.39,278.43 L452.89,278.4 L454.39,278.37 L455.89,278.33 L457.39,278.28 L458.89,278.23 L460.39,278.18 L461.89,278.11 L463.39,278.04 L464.89,277.96 L466.39,277.87 L467.89,277.77 L469.39,277.66 L470.89,277.53 L472.39,277.38 L473.89,277.22 L475.39,277.04 L476.89,276.84 L478.39,276.62 L479.89,276.37 L481.39,276.08 L482.89,275.77 L484.39,275.43 L485.89,275.04 L487.39,274.61 L488.89,274.14 L490.39,273.62 L491.89,273.05 L493.38,272.43 L494.88,271.75 L496.38,271 L497.88,270.2 L499.38,269.32 L500.88,268.39 L502.38,267.39 L503.88,266.32 L505.38,265.19 L506.88,264.01 L508.38,262.77 L509.88,261.48 L511.38,260.15 L512.88,258.78 L514.38,257.39 L515.88,255.99 L517.38,254.58 L518.88,253.18 L520.38,251.8 L521.88,250.44 L523.38,249.11 L524.88,247.83 L526.38,246.6 L527.88,245.42 L529.38,244.3 L530.88,243.24 L532.38,242.25 L533.88,241.32 L535.38,240.46 L536.88,239.66 L538.38,238.93 L539.88,238.25 L541.38,237.64 L542.88,237.07 L544.38,236.56 L545.88,236.1 L547.38,235.68 L548.88,235.3 L550.38,234.96 L551.88,234.65 L553.38,234.37 L554.87,234.12 L556.37,233.9 L557.87,233.7 L559.37,233.53 L560.87,233.37 L562.37,233.23 L563.87,233.1 L565.37,232.99 L566.87,232.89 L568.37,232.8 L569.87,232.72 L571.37,232.65 L572.87,232.59 L574.37,232.54 L575.87,232.49 L577.37,232.44 L578.87,232.4 L580.37,232.37 L581.87,232.34 L583.37,232.31" fill="none" stroke="#5aa6ee" stroke-width="1.7"/><path d="M390.54,282.68 L392.15,282.67 L393.76,282.67 L395.37,282.66 L396.97,282.65 L398.58,282.64 L400.19,282.63 L401.79,282.62 L403.4,282.61 L405.01,282.6 L406.61,282.58 L408.22,282.57 L409.83,282.55 L411.43,282.53 L413.04,282.51 L414.65,282.48 L416.25,282.45 L417.86,282.42 L419.47,282.39 L421.08,282.35 L422.68,282.31 L424.29,282.26 L425.9,282.21 L427.5,282.15 L429.11,282.09 L430.72,282.02 L432.32,281.94 L433.93,281.85 L435.54,281.75 L437.14,281.64 L438.75,281.52 L440.36,281.39 L441.96,281.24 L443.57,281.08 L445.18,280.9 L446.79,280.7 L448.39,280.47 L450,280.23 L451.61,279.96 L453.21,279.66 L454.82,279.34 L456.43,278.98 L458.03,278.58 L459.64,278.15 L461.25,277.68 L462.85,277.17 L464.46,276.61 L466.07,276 L467.67,275.34 L469.28,274.63 L470.89,273.86 L472.5,273.04 L474.1,272.15 L475.71,271.21 L477.32,270.21 L478.92,269.16 L480.53,268.04 L482.14,266.87 L483.74,265.65 L485.35,264.38 L486.96,263.07 L488.56,261.72 L490.17,260.35 L491.78,258.95 L493.38,257.54 L494.99,256.12 L496.6,254.7 L498.21,253.29 L499.81,251.9 L501.42,250.53 L503.03,249.2 L504.63,247.91 L506.24,246.66 L507.85,245.46 L509.45,244.31 L511.06,243.21 L512.67,242.18 L514.27,241.2 L515.88,240.28 L517.49,239.43 L519.1,238.62 L520.7,237.88 L522.31,237.19 L523.92,236.55 L525.52,235.96 L527.13,235.42 L528.74,234.92 L530.34,234.47 L531.95,234.05 L533.56,233.67 L535.16,233.33 L536.77,233.01 L538.38,232.73 L539.98,232.47 L541.59,232.24 L543.2,232.02 L544.8,231.83 L546.41,231.66 L548.02,231.5 L549.63,231.36 L551.23,231.23 L552.84,231.11 L554.45,231.01 L556.05,230.91 L557.66,230.83 L559.27,230.75 L560.87,230.68 L562.48,230.62 L564.09,230.57 L565.69,230.52 L567.3,230.47 L568.91,230.43 L570.51,230.4 L572.12,230.36 L573.73,230.33 L575.34,230.31 L576.94,230.28 L578.55,230.26 L580.16,230.24 L581.76,230.23 L583.37,230.21" fill="none" stroke="#000" stroke-width="2.0"/><path d="M403.4,281.24 L404.9,281.22 L406.4,281.21 L407.9,281.19 L409.4,281.17 L410.9,281.15 L412.4,281.13 L413.9,281.1 L415.4,281.07 L416.9,281.04 L418.4,281 L419.9,280.97 L421.4,280.92 L422.9,280.88 L424.4,280.82 L425.9,280.77 L427.4,280.7 L428.9,280.63 L430.4,280.55 L431.9,280.47 L433.39,280.37 L434.89,280.27 L436.39,280.16 L437.89,280.03 L439.39,279.89 L440.89,279.74 L442.39,279.57 L443.89,279.39 L445.39,279.18 L446.89,278.96 L448.39,278.72 L449.89,278.46 L451.39,278.16 L452.89,277.85 L454.39,277.5 L455.89,277.12 L457.39,276.71 L458.89,276.27 L460.39,275.78 L461.89,275.26 L463.39,274.69 L464.89,274.08 L466.39,273.43 L467.89,272.72 L469.39,271.97 L470.89,271.17 L472.39,270.31 L473.89,269.4 L475.39,268.45 L476.89,267.44 L478.39,266.38 L479.89,265.28 L481.39,264.13 L482.89,262.94 L484.39,261.72 L485.89,260.46 L487.39,259.18 L488.89,257.88 L490.39,256.56 L491.89,255.24 L493.38,253.91 L494.88,252.59 L496.38,251.29 L497.88,250 L499.38,248.74 L500.88,247.5 L502.38,246.3 L503.88,245.14 L505.38,244.03 L506.88,242.96 L508.38,241.94 L509.88,240.96 L511.38,240.04 L512.88,239.17 L514.38,238.36 L515.88,237.59 L517.38,236.87 L518.88,236.2 L520.38,235.58 L521.88,235 L523.38,234.46 L524.88,233.97 L526.38,233.51 L527.88,233.09 L529.38,232.7 L530.88,232.35 L532.38,232.02 L533.88,231.73 L535.38,231.45 L536.88,231.2 L538.38,230.98 L539.88,230.77 L541.38,230.58 L542.88,230.41 L544.38,230.25 L545.88,230.11 L547.38,229.98 L548.88,229.86 L550.38,229.75 L551.88,229.66 L553.38,229.57 L554.87,229.49 L556.37,229.42 L557.87,229.35 L559.37,229.29 L560.87,229.24 L562.37,229.19 L563.87,229.15 L565.37,229.11 L566.87,229.07 L568.37,229.04 L569.87,229.01 L571.37,228.98 L572.87,228.96 L574.37,228.93 L575.87,228.91 L577.37,228.9 L578.87,228.88 L580.37,228.86 L581.87,228.85 L583.37,228.84" fill="none" stroke="#a51ad8" stroke-width="1.9"/><path d="M390.54,283.17 L392.15,283.15 L393.76,283.13 L395.37,283.1 L396.97,283.07 L398.58,283.04 L400.19,283 L401.79,282.96 L403.4,282.92 L405.01,282.87 L406.61,282.82 L408.22,282.77 L409.83,282.7 L411.43,282.64 L413.04,282.56 L414.65,282.48 L416.25,282.39 L417.86,282.3 L419.47,282.19 L421.08,282.07 L422.68,281.95 L424.29,281.81 L425.9,281.66 L427.5,281.49 L429.11,281.31 L430.72,281.11 L432.32,280.89 L433.93,280.66 L435.54,280.4 L437.14,280.12 L438.75,279.82 L440.36,279.49 L441.96,279.13 L443.57,278.74 L445.18,278.31 L446.79,277.85 L448.39,277.36 L450,276.82 L451.61,276.25 L453.21,275.63 L454.82,274.96 L456.43,274.25 L458.03,273.48 L459.64,272.66 L461.25,271.79 L462.85,270.86 L464.46,269.88 L466.07,268.84 L467.67,267.74 L469.28,266.59 L470.89,265.38 L472.5,264.12 L474.1,262.81 L475.71,261.44 L477.32,260.04 L478.92,258.59 L480.53,257.1 L482.14,255.59 L483.74,254.04 L485.35,252.48 L486.96,250.91 L488.56,249.33 L490.17,247.76 L491.78,246.19 L493.38,244.64 L494.99,243.1 L496.6,241.6 L498.21,240.13 L499.81,238.7 L501.42,237.31 L503.03,235.96 L504.63,234.67 L506.24,233.43 L507.85,232.24 L509.45,231.11 L511.06,230.04 L512.67,229.02 L514.27,228.06 L515.88,227.15 L517.49,226.3 L519.1,225.51 L520.7,224.76 L522.31,224.07 L523.92,223.42 L525.52,222.82 L527.13,222.26 L528.74,221.74 L530.34,221.26 L531.95,220.81 L533.56,220.4 L535.16,220.03 L536.77,219.68 L538.38,219.36 L539.98,219.06 L541.59,218.79 L543.2,218.55 L544.8,218.32 L546.41,218.11 L548.02,217.92 L549.63,217.74 L551.23,217.58 L552.84,217.44 L554.45,217.3 L556.05,217.18 L557.66,217.07 L559.27,216.96 L560.87,216.87 L562.48,216.78 L564.09,216.71 L565.69,216.64 L567.3,216.57 L568.91,216.51 L570.51,216.46 L572.12,216.41 L573.73,216.36 L575.34,216.32 L576.94,216.28 L578.55,216.25 L580.16,216.22 L581.76,216.19 L583.37,216.16" fill="none" stroke="#1e12c4" stroke-width="1.8"/><path d="M401,275.52 L405.8,275.52 L403.4,279.37Z" fill="#5aa6ee"/><path d="M426.71,276.87 L431.51,276.87 L429.11,280.71Z" fill="#5aa6ee"/><path d="M452.42,276.2 L457.22,276.2 L454.82,280.04Z" fill="#5aa6ee"/><path d="M478.13,275.86 L482.93,275.86 L480.53,279.7Z" fill="#5aa6ee"/><path d="M503.84,262.02 L508.64,262.02 L506.24,265.87Z" fill="#5aa6ee"/><line x1="531.95" y1="239.52" x2="531.95" y2="247.62" stroke="#5aa6ee" stroke-width="1.0"/><line x1="529.45" y1="239.52" x2="534.45" y2="239.52" stroke="#5aa6ee" stroke-width="1.0"/><line x1="529.45" y1="247.62" x2="534.45" y2="247.62" stroke="#5aa6ee" stroke-width="1.0"/><path d="M529.55,241.77 L534.35,241.77 L531.95,245.61Z" fill="#5aa6ee"/><line x1="557.66" y1="231.42" x2="557.66" y2="235.47" stroke="#5aa6ee" stroke-width="1.0"/><line x1="555.16" y1="231.42" x2="560.16" y2="231.42" stroke="#5aa6ee" stroke-width="1.0"/><line x1="555.16" y1="235.47" x2="560.16" y2="235.47" stroke="#5aa6ee" stroke-width="1.0"/><path d="M555.26,231.65 L560.06,231.65 L557.66,235.49Z" fill="#5aa6ee"/><path d="M580.97,230.97 L585.77,230.97 L583.37,234.81Z" fill="#5aa6ee"/><circle cx="403.4" cy="281.38" r="2.8" fill="#a51ad8"/><circle cx="429.11" cy="282.05" r="2.8" fill="#a51ad8"/><circle cx="454.82" cy="279.35" r="2.8" fill="#a51ad8"/><circle cx="480.53" cy="265.17" r="2.8" fill="#a51ad8"/><line x1="506.24" y1="242.22" x2="506.24" y2="247.62" stroke="#a51ad8" stroke-width="1.1"/><line x1="503.44" y1="242.22" x2="509.04" y2="242.22" stroke="#a51ad8" stroke-width="1.1"/><line x1="503.44" y1="247.62" x2="509.04" y2="247.62" stroke="#a51ad8" stroke-width="1.1"/><circle cx="506.24" cy="244.92" r="2.8" fill="#a51ad8"/><line x1="531.95" y1="230.07" x2="531.95" y2="239.52" stroke="#a51ad8" stroke-width="1.1"/><line x1="529.15" y1="230.07" x2="534.75" y2="230.07" stroke="#a51ad8" stroke-width="1.1"/><line x1="529.15" y1="239.52" x2="534.75" y2="239.52" stroke="#a51ad8" stroke-width="1.1"/><circle cx="531.95" cy="234.8" r="2.8" fill="#a51ad8"/><line x1="557.66" y1="223.32" x2="557.66" y2="230.07" stroke="#a51ad8" stroke-width="1.1"/><line x1="554.86" y1="223.32" x2="560.46" y2="223.32" stroke="#a51ad8" stroke-width="1.1"/><line x1="554.86" y1="230.07" x2="560.46" y2="230.07" stroke="#a51ad8" stroke-width="1.1"/><circle cx="557.66" cy="226.7" r="2.8" fill="#a51ad8"/><line x1="583.37" y1="223.32" x2="583.37" y2="234.12" stroke="#a51ad8" stroke-width="1.1"/><line x1="580.57" y1="223.32" x2="586.17" y2="223.32" stroke="#a51ad8" stroke-width="1.1"/><line x1="580.57" y1="234.12" x2="586.17" y2="234.12" stroke="#a51ad8" stroke-width="1.1"/><circle cx="583.37" cy="228.72" r="2.8" fill="#a51ad8"/><rect x="401.25" y="280.57" width="4.3" height="4.3" fill="#1e12c4"/><rect x="426.96" y="281.25" width="4.3" height="4.3" fill="#1e12c4"/><rect x="452.67" y="274.5" width="4.3" height="4.3" fill="#1e12c4"/><line x1="480.53" y1="253.02" x2="480.53" y2="258.42" stroke="#1e12c4" stroke-width="1.0"/><line x1="478.03" y1="253.02" x2="483.03" y2="253.02" stroke="#1e12c4" stroke-width="1.0"/><line x1="478.03" y1="258.42" x2="483.03" y2="258.42" stroke="#1e12c4" stroke-width="1.0"/><rect x="478.38" y="253.57" width="4.3" height="4.3" fill="#1e12c4"/><line x1="506.24" y1="231.76" x2="506.24" y2="237.84" stroke="#1e12c4" stroke-width="1.0"/><line x1="503.74" y1="231.76" x2="508.74" y2="231.76" stroke="#1e12c4" stroke-width="1.0"/><line x1="503.74" y1="237.84" x2="508.74" y2="237.84" stroke="#1e12c4" stroke-width="1.0"/><rect x="504.09" y="232.65" width="4.3" height="4.3" fill="#1e12c4"/><rect x="529.8" y="220.5" width="4.3" height="4.3" fill="#1e12c4"/><rect x="555.51" y="215.77" width="4.3" height="4.3" fill="#1e12c4"/><rect x="581.22" y="213.75" width="4.3" height="4.3" fill="#1e12c4"/><path d="M403.4,277.98 L406.8,281.38 L403.4,284.77 L400,281.38Z" fill="#f2e600" stroke="#000" stroke-width="0.9"/><path d="M403.4,277.98 L406.8,281.38 L400,281.38Z" fill="#000"/><path d="M429.11,280 L432.51,283.4 L429.11,286.8 L425.71,283.4Z" fill="#f2e600" stroke="#000" stroke-width="0.9"/><path d="M429.11,280 L432.51,283.4 L425.71,283.4Z" fill="#000"/><path d="M454.82,278.65 L458.22,282.05 L454.82,285.45 L451.42,282.05Z" fill="#f2e600" stroke="#000" stroke-width="0.9"/><path d="M454.82,278.65 L458.22,282.05 L451.42,282.05Z" fill="#000"/><path d="M480.53,263.12 L483.93,266.52 L480.53,269.92 L477.13,266.52Z" fill="#f2e600" stroke="#000" stroke-width="0.9"/><path d="M480.53,263.12 L483.93,266.52 L477.13,266.52Z" fill="#000"/><path d="M506.24,242.2 L509.64,245.6 L506.24,249 L502.84,245.6Z" fill="#f2e600" stroke="#000" stroke-width="0.9"/><path d="M506.24,242.2 L509.64,245.6 L502.84,245.6Z" fill="#000"/><path d="M531.95,232.75 L535.35,236.15 L531.95,239.55 L528.55,236.15Z" fill="#f2e600" stroke="#000" stroke-width="0.9"/><path d="M531.95,232.75 L535.35,236.15 L528.55,236.15Z" fill="#000"/><path d="M557.66,230.05 L561.06,233.45 L557.66,236.85 L554.26,233.45Z" fill="#f2e600" stroke="#000" stroke-width="0.9"/><path d="M557.66,230.05 L561.06,233.45 L554.26,233.45Z" fill="#000"/><path d="M583.37,226 L586.77,229.4 L583.37,232.8 L579.97,229.4Z" fill="#f2e600" stroke="#000" stroke-width="0.9"/><path d="M583.37,226 L586.77,229.4 L579.97,229.4Z" fill="#000"/><rect x="610.35" y="153.85" width="4.3" height="4.3" fill="#1e12c4"/><path d="M610.1,169.4 L614.9,169.4 L612.5,173.24Z" fill="#5aa6ee"/><circle cx="612.6" cy="187.5" r="2.6" fill="#a51ad8"/><path d="M612.6,201 L616,204.4 L612.6,207.8 L609.2,204.4Z" fill="#f2e600" stroke="#000" stroke-width="0.9"/><path d="M612.6,201 L616,204.4 L609.2,204.4Z" fill="#000"/><text x="628.6" y="159.4" font-size="9.9" text-anchor="start" font-weight="normal" fill="#000" stroke="#000" stroke-width="0.1">ACh</text><text x="628.6" y="175.4" font-size="9.9" text-anchor="start" font-weight="normal" fill="#000" stroke="#000" stroke-width="0.1">ACh + Dronedarone</text><text x="628.6" y="191" font-size="9.9" text-anchor="start" font-weight="normal" fill="#000" stroke="#000" stroke-width="0.1">ACh + <tspan font-weight="bold">3</tspan></text><text x="628.6" y="207.9" font-size="9.9" text-anchor="start" font-weight="normal" fill="#000" stroke="#000" stroke-width="0.1">ACh + <tspan font-weight="bold">4</tspan></text></g>
</svg>
</body></html>
